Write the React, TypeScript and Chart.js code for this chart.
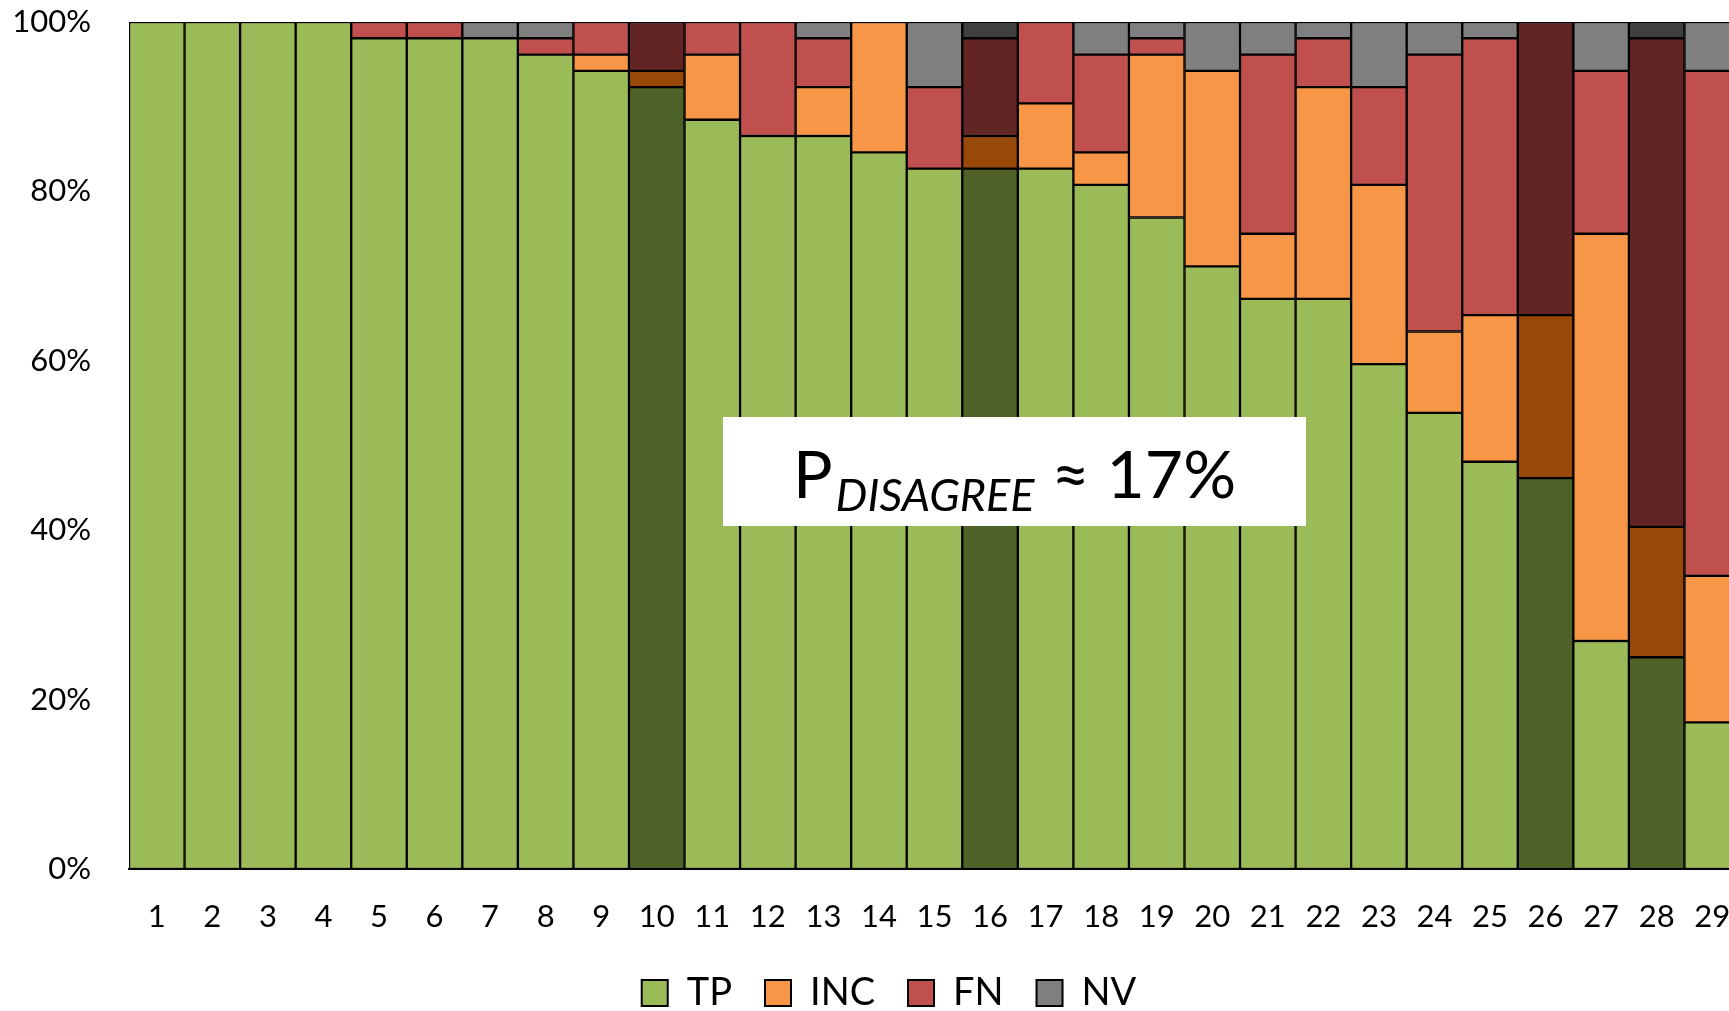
import React, { useEffect, useRef } from "react";
import { Chart, registerables } from "chart.js";

Chart.register(...registerables);

// Number of assessments per case (each bar totals this count)
const TOTAL = 52;

const CASES = [
  "1", "2", "3", "4", "5", "6", "7", "8", "9", "10",
  "11", "12", "13", "14", "15", "16", "17", "18", "19", "20",
  "21", "22", "23", "24", "25", "26", "27", "28", "29",
];

// Counts (out of 52)
const TP = [52, 52, 52, 52, 51, 51, 51, 50, 49, 48, 46, 45, 45, 44, 43, 43, 43, 42, 40, 37, 35, 35, 31, 28, 25, 24, 14, 13, 9];
const INC = [0, 0, 0, 0, 0, 0, 0, 0, 1, 1, 4, 0, 3, 8, 0, 2, 4, 2, 10, 12, 4, 13, 11, 5, 9, 10, 25, 8, 9];
const FN = [0, 0, 0, 0, 1, 1, 0, 1, 2, 3, 2, 7, 3, 0, 5, 6, 5, 6, 1, 0, 11, 3, 6, 17, 17, 18, 10, 30, 31];
const NV = [0, 0, 0, 0, 0, 0, 1, 1, 0, 0, 0, 0, 1, 0, 4, 1, 0, 2, 1, 3, 2, 1, 4, 2, 1, 0, 3, 1, 3];

// Cases drawn in the darker shade
const DARK_CASES = ["10", "16", "26", "28"];

const Y_TICKS = [0, 20, 40, 60, 80, 100];

const SERIES_NAMES = ["TP", "INC", "FN", "NV"];
const LIGHT = ["#9BBB59", "#F79646", "#C0504D", "#7F7F7F"];
const DARK = ["#4F6228", "#984807", "#632523", "#3F3F3F"];

const FONT = "Lato, 'Open Sans', sans-serif";

const annotationPlugin = {
  id: "pdisagree",
  afterDatasetsDraw(chart: any) {
    const { ctx, chartArea } = chart;
    const boxL = chartArea.left + 594;
    const boxT = chartArea.top + 395;
    const boxW = 583;
    const boxH = 109;
    ctx.save();
    ctx.fillStyle = "#ffffff";
    ctx.fillRect(boxL, boxT, boxW, boxH);
    ctx.fillStyle = "#000";
    ctx.textBaseline = "alphabetic";
    ctx.textAlign = "left";
    const bigFont = `66px ${FONT}`;
    const subFont = `italic 45px ${FONT}`;
    ctx.font = bigFont;
    const wP = ctx.measureText("P").width;
    const wRest = ctx.measureText(" \u2248 17%").width;
    ctx.font = subFont;
    const wSub = ctx.measureText("DISAGREE").width;
    const total = wP + 3 + wSub + wRest;
    let x = boxL + boxW / 2 - total / 2;
    const base = boxT + 81;
    ctx.font = bigFont;
    ctx.fillText("P", x, base);
    x += wP + 3;
    ctx.font = subFont;
    ctx.fillText("DISAGREE", x, base + 13);
    x += wSub;
    ctx.font = bigFont;
    ctx.fillText(" \u2248 17%", x, base);
    ctx.restore();
  },
};

export default function App() {
  const ref = useRef<HTMLCanvasElement>(null);

  useEffect(() => {
    const canvas = ref.current;
    if (!canvas) return;
    const colorsFor = (s: number) =>
      CASES.map((c) => (DARK_CASES.includes(c) ? DARK[s] : LIGHT[s]));
    const series = [TP, INC, FN, NV];
    const chart = new Chart(canvas, {
      type: "bar",
      data: {
        labels: CASES,
        datasets: series.map((vals, s) => ({
          label: SERIES_NAMES[s],
          data: vals.map((v) => (v * 100) / TOTAL),
          backgroundColor: colorsFor(s),
          borderColor: "#000000",
          borderWidth: 1.5,
          borderSkipped: false,
          barPercentage: 1,
          categoryPercentage: 1,
        })),
      },
      options: {
        animation: false,
        responsive: false,
        maintainAspectRatio: false,
        layout: { padding: { left: 0, top: 22, right: 0, bottom: 0 } },
        plugins: {
          tooltip: { enabled: false },
          legend: {
            position: "bottom",
            labels: {
              font: { family: FONT, size: 38 },
              color: "#000",
              boxWidth: 26,
              boxHeight: 26,
              padding: 33,
              generateLabels: () =>
                SERIES_NAMES.map((n, i) => ({
                  text: n,
                  fillStyle: LIGHT[i],
                  strokeStyle: "#000",
                  lineWidth: 2,
                  hidden: false,
                  datasetIndex: i,
                  fontColor: "#000",
                })),
            },
          },
        },
        scales: {
          x: {
            stacked: true,
            grid: { display: false, drawTicks: false },
            border: { display: true, color: "#000", width: 2 },
            ticks: {
              font: { family: FONT, size: 31 },
              color: "#000",
              padding: 29,
              maxRotation: 0,
              autoSkip: false,
            },
            afterFit: (scale: any) => {
              scale.height = 72;
              scale.paddingLeft = 0;
              scale.paddingRight = 38;
            },
          },
          y: {
            stacked: true,
            min: 0,
            max: 100,
            grid: { display: false, drawTicks: false },
            border: { display: false },
            ticks: {
              font: { family: FONT, size: 31 },
              color: "#000",
              padding: 38,
              stepSize: 20,
              callback: (v: any) => `${v}%`,
            },
            afterBuildTicks: (scale: any) => {
              scale.ticks = Y_TICKS.map((v) => ({ value: v }));
            },
            afterFit: (scale: any) => {
              scale.width = 129;
              scale.paddingTop = 0;
              scale.paddingBottom = 0;
            },
          },
        },
      },
      plugins: [annotationPlugin],
    });
    return () => chart.destroy();
  }, []);

  return (
    <div
      style={{
        position: "fixed",
        left: 0,
        top: 0,
        width: 1729,
        height: 1011,
        overflow: "hidden",
        background: "#ffffff",
      }}
    >
      <canvas
        ref={ref}
        width={1778}
        height={1022}
        style={{ display: "block", width: 1778, height: 1022 }}
      />
    </div>
  );
}
